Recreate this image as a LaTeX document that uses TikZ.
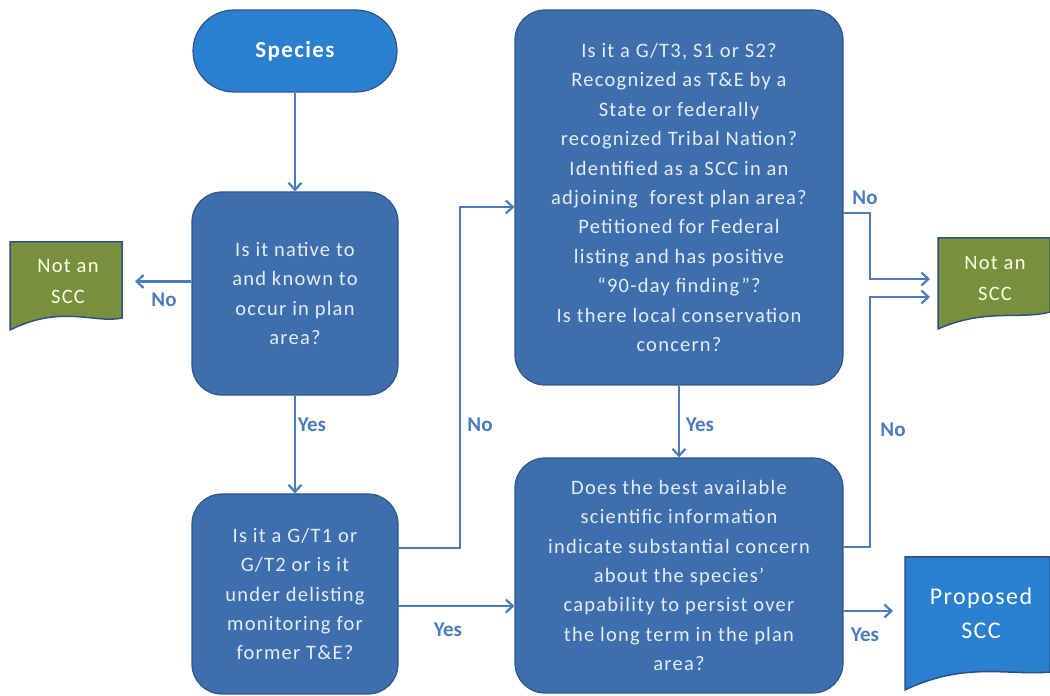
\documentclass[tikz,border=0pt]{standalone}
\usepackage{fontspec}
\setmainfont{Carlito}
\usetikzlibrary{arrows.meta,calc}
\definecolor{boxblue}{HTML}{3D6EAD}
\definecolor{boxedge}{HTML}{2E5687}
\definecolor{brightblue}{HTML}{2A80CE}
\definecolor{docgreen}{HTML}{77903D}
\definecolor{docedge}{HTML}{2E5080}
\definecolor{linkblue}{HTML}{4A7CBB}
\definecolor{boxtext}{HTML}{E8ECF2}
\begin{document}
\begin{tikzpicture}[x=1pt,y=1pt,
  qbox/.style={draw=boxedge,line width=1.2pt,fill=boxblue,rounded corners=30pt,
    text=boxtext,align=center,font=\fontsize{20.5}{29.4}\selectfont\addfontfeatures{LetterSpace=6},inner sep=0pt},
  link/.style={draw=linkblue,line width=2.4pt,-{Straight Barb[length=7pt,width=13pt,line width=2.2pt]}},
  lab/.style={text=linkblue,font=\fontsize{21}{22}\bfseries\selectfont},
  docshape/.style={draw=docedge,line width=1.5pt},
  doctext/.style={align=center,inner sep=0pt}]
\useasboundingbox (0,0) rectangle (1050,696);

% start
\node[draw=boxedge,line width=1.2pt,fill=brightblue,rounded corners=41pt,
  minimum width=204pt,minimum height=82pt,text=white,
  font=\fontsize{23}{24}\bfseries\selectfont\addfontfeatures{LetterSpace=6}] (sp) at (295,645) {Species};

% question boxes
\node[qbox,minimum width=206pt,minimum height=203pt] (b1) at (295,402.5)
  {Is it native to\\and known to\\occur in plan\\area?};
\node[qbox,minimum width=206pt,minimum height=200pt] (b2) at (295,102)
  {Is it a G/T1 or\\G/T2 or is it\\under delisting\\monitoring for\\former T\&E?};
\node[qbox,minimum width=328pt,minimum height=375pt] (b3) at (679,498.5)
  {Is it a G/T3, S1 or S2?\\Recognized as T\&E by a\\State or federally\\recognized Tribal Nation?\\Identified as a SCC in an\\adjoining\ \ forest plan area?\\Petitioned for Federal\\listing and has positive\\“90-day finding”?\\Is there local conservation\\concern?};
\node[qbox,minimum width=328pt,minimum height=235pt] (b4) at (679,120.5)
  {Does the best available\\scientific information\\indicate substantial concern\\about the species’\\capability to persist over\\the long term in the plan\\area?};

% document shapes
\draw[docshape,fill=docgreen] (10,454) -- (122,454) -- (122,378)
  .. controls (95,372) and (62,392) .. (10,366) -- cycle;
\node[doctext,text=white!90!yellow,font=\fontsize{20.5}{31}\selectfont\addfontfeatures{LetterSpace=6}] (d1) at (68,415) {Not an\\SCC};

\draw[docshape,fill=docgreen] (938,458) -- (1050,458) -- (1050,384)
  .. controls (1020,376) and (985,388) .. (938,367) -- cycle;
\node[doctext,text=white!90!yellow,font=\fontsize{20.5}{31}\selectfont\addfontfeatures{LetterSpace=6}] (d2) at (995,418) {Not an\\SCC};

\draw[docshape,fill=brightblue] (905,139) -- (1050,139) -- (1050,24)
  .. controls (1010,20) and (965,35) .. (905,6) -- cycle;
\node[doctext,text=white,font=\fontsize{24}{34}\selectfont\addfontfeatures{LetterSpace=6}] (ps) at (981,83) {Proposed\\SCC};

% connectors
\coordinate (a0) at ($(b1.west)+(0,12)$);
\draw[link] (a0) -- (135,414.5);
\node[lab] (nl1) at (164,396) {No};
\draw[link] (sp.south) -- (b1.north);
\draw[link] (b1.south) -- (b2.north);
\node[lab] (yl1) at (312,271) {Yes};

\coordinate (a1) at ($(b2.east)+(0,46)$);
\coordinate (a2) at ($(b3.west)+(0,-9.5)$);
\draw[link] (a1) -- (460,148) -- (460,489) -- (a2);
\node[lab] (nl2) at (480,271) {No};

\coordinate (a3) at ($(b2.east)+(0,-12)$);
\draw[link] (a3) -- (a3 -| b4.west);
\node[lab] (yl2) at (448,66) {Yes};

\draw[link] (b3.south) -- (b4.north);
\node[lab] (yl3) at (700,271) {Yes};

\coordinate (a4) at (b3.east |- 0,483);
\draw[link] (a4) -- (870,483) -- (870,417) -- (930,417);
\node[lab] (nl3) at (865,498) {No};
\coordinate (a5) at (b4.east |- 0,149);
\draw[link] (a5) -- (870,149) -- (870,399) -- (930,399);
\node[lab] (nl4) at (893,266) {No};

\coordinate (a6) at (b4.east |- 0,85);
\draw[link] (a6) -- (893,85);
\node[lab] (yl4) at (865,61) {Yes};
\end{tikzpicture}
\end{document}
